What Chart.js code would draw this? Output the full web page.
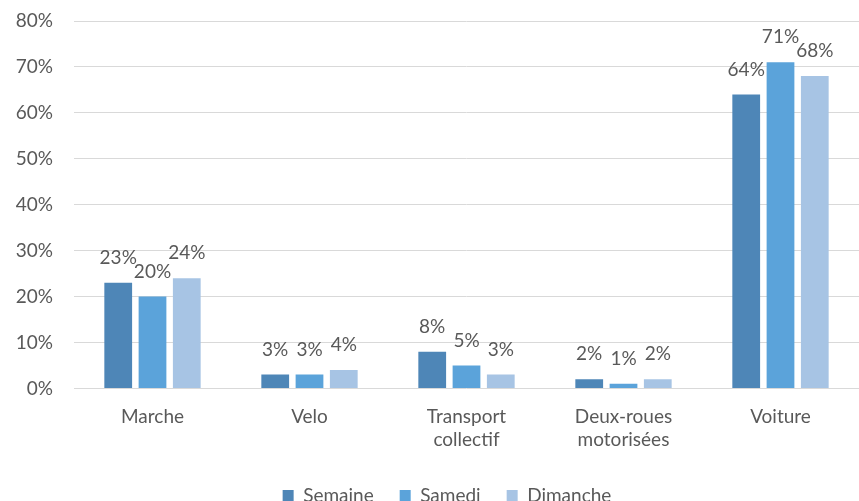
<!DOCTYPE html>
<html>
<head>
<meta charset="utf-8">
<script src="https://cdn.jsdelivr.net/npm/chart.js@4"></script>
<style>
  html, body { margin: 0; padding: 0; background: #fff; overflow: hidden; }
  #wrap { width: 859px; height: 501px; }
</style>
</head>
<body>
<div id="wrap"><canvas id="modeChart"></canvas></div>
<script>
    // catégories et valeurs (en %)
    const categories = ["Marche", "Velo", ["Transport", "collectif"], ["Deux-roues", "motorisées"], "Voiture"];
    const semaine = [23, 3, 8, 2, 64];
    const samedi = [20, 3, 5, 1, 71];
    const dimanche = [24, 4, 3, 2, 68];
    const yTicks = [0, 10, 20, 30, 40, 50, 60, 70, 80];

    const textColor = "#595959";
    const fontFamily = "Lato, 'Open Sans', sans-serif";

    // étiquettes de valeurs au-dessus des barres
    const valueLabels = {
        id: "valueLabels",
        afterDatasetsDraw(chart) {
            const ctx = chart.ctx;
            ctx.save();
            ctx.font = "19px " + fontFamily;
            ctx.fillStyle = textColor;
            ctx.textAlign = "center";
            ctx.textBaseline = "middle";
            chart.data.datasets.forEach((ds, i) => {
                const meta = chart.getDatasetMeta(i);
                meta.data.forEach((bar, j) => {
                    ctx.fillText(ds.data[j] + "%", bar.x, bar.y - 25);
                });
            });
            ctx.restore();
        }
    };

    // légende un peu décalée vers la droite, comme dans Excel
    const shiftLegend = {
        id: "shiftLegend",
        afterLayout(chart) {
            chart.legend.left += 15;
            chart.legend.right += 15;
        }
    };

    new Chart(document.getElementById("modeChart"), {
        type: "bar",
        data: {
            labels: categories,
            datasets: [
                { label: "Semaine", data: semaine, backgroundColor: "#4e86b7" },
                { label: "Samedi", data: samedi, backgroundColor: "#5ba3da" },
                { label: "Dimanche", data: dimanche, backgroundColor: "#a7c4e4" }
            ]
        },
        options: {
            responsive: true,
            maintainAspectRatio: false,
            animation: false,
            layout: { padding: { top: 0, right: -5, left: 0, bottom: -14 } },
            datasets: { bar: { categoryPercentage: 0.655, barPercentage: 0.81 } },
            plugins: {
                legend: {
                    position: "bottom",
                    labels: {
                        color: textColor,
                        font: { size: 19, family: fontFamily },
                        boxWidth: 11,
                        boxHeight: 11,
                        padding: 26
                    }
                },
                tooltip: { enabled: false }
            },
            scales: {
                x: {
                    grid: { display: false },
                    border: { display: false },
                    ticks: { color: textColor, font: { size: 19, family: fontFamily, lineHeight: 1.2 }, padding: 9, maxRotation: 0 }
                },
                y: {
                    min: yTicks[0],
                    max: yTicks[yTicks.length - 1],
                    afterBuildTicks: axis => { axis.ticks = yTicks.map(v => ({ value: v })); },
                    afterFit: axis => { axis.width = 74; axis.paddingTop = 21; },
                    grid: { color: "#d9d9d9", lineWidth: 1, drawTicks: false },
                    border: { display: false },
                    ticks: {
                        color: textColor,
                        font: { size: 19, family: fontFamily },
                        padding: 21,
                        callback: v => v + "%"
                    }
                }
            }
        },
        plugins: [valueLabels, shiftLegend]
    });
</script>
</body>
</html>
